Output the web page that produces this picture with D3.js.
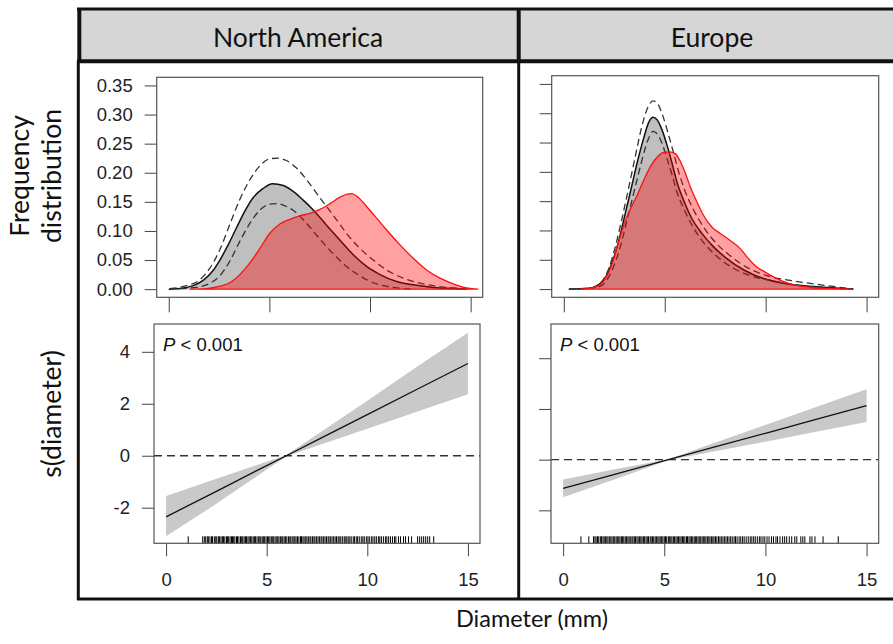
<!DOCTYPE html>
<html>
<head>
<meta charset="utf-8">
<script src="https://cdn.jsdelivr.net/npm/d3@7"></script>
<style>
  body { margin: 0; background: #fff; }
  svg { display: block; }
</style>
</head>
<body>
<svg id="chart" width="893" height="644"></svg>
<script>
// ---- Data ---------------------------------------------------------------
const regions = ["North America", "Europe"];

const densityTicks = [0, 0.05, 0.10, 0.15, 0.20, 0.25, 0.30, 0.35];
const diameterTicks = [0, 5, 10, 15];
const smoothTicks = [-2, 0, 2, 4];
const pText = ["P", " < 0.001"];

// Kernel density of diameters, [diameter (mm), density]
// North America: native (grey, with dashed bounds) and invaded (red)
const naNative = [[0,0],[0.55,0.001],[1.21,0.006],[1.71,0.015],[2.2,0.032],[2.54,0.05],[2.95,0.076],[3.36,0.105],[3.78,0.134],[4.19,0.157],[4.69,0.173],[5.15,0.181],[5.69,0.178],[6.18,0.168],[6.68,0.153],[7.18,0.136],[7.84,0.11],[8.51,0.084],[9.17,0.059],[9.83,0.039],[10.5,0.025],[11.32,0.013],[12.23,0.007],[13.14,0.003],[14.14,0.001],[14.8,0]];
const naNativeUpper = [[0.05,0.001],[0.88,0.006],[1.54,0.016],[2.04,0.036],[2.54,0.068],[3.03,0.111],[3.53,0.154],[4.03,0.188],[4.53,0.212],[5.02,0.224],[5.44,0.225],[5.85,0.221],[6.35,0.208],[6.85,0.188],[7.34,0.165],[7.84,0.142],[8.34,0.119],[8.83,0.096],[9.5,0.07],[10.16,0.05],[10.82,0.033],[11.65,0.019],[12.65,0.009],[13.81,0.003],[14.64,0.001]];
const naNativeLower = [[0.55,0.001],[1.38,0.003],[2.04,0.01],[2.54,0.023],[3.03,0.048],[3.53,0.082],[4.03,0.113],[4.53,0.136],[5.02,0.146],[5.35,0.147],[5.85,0.142],[6.35,0.131],[6.85,0.113],[7.34,0.093],[7.84,0.073],[8.34,0.055],[8.83,0.039],[9.5,0.023],[10.16,0.011],[10.82,0.005],[11.65,0.001],[12.15,0]];
const naInvaded = [[1.04,0],[1.87,0.001],[2.54,0.005],[3.03,0.011],[3.53,0.025],[4.03,0.045],[4.53,0.07],[5.02,0.096],[5.52,0.112],[6.02,0.12],[6.51,0.126],[7.01,0.13],[7.51,0.137],[8.01,0.147],[8.5,0.158],[8.83,0.163],[9.08,0.164],[9.41,0.158],[9.83,0.142],[10.33,0.122],[10.82,0.102],[11.49,0.076],[12.15,0.053],[12.81,0.033],[13.48,0.019],[14.14,0.009],[14.8,0.002],[15.38,0]];

// Europe
const euNative = [[0.25,0],[1.15,0.001],[1.65,0.006],[1.98,0.015],[2.31,0.038],[2.64,0.072],[2.97,0.118],[3.3,0.166],[3.63,0.215],[3.96,0.258],[4.2,0.284],[4.42,0.293],[4.62,0.289],[4.86,0.272],[5.11,0.246],[5.36,0.215],[5.6,0.183],[5.93,0.152],[6.35,0.12],[6.84,0.095],[7.42,0.072],[8.08,0.052],[8.9,0.033],[9.89,0.018],[11.04,0.009],[12.53,0.004],[14.34,0]];
const euNativeUpper = [[0.25,0],[1.48,0.003],[1.9,0.014],[2.23,0.035],[2.55,0.072],[2.88,0.12],[3.21,0.172],[3.54,0.226],[3.87,0.278],[4.15,0.309],[4.42,0.321],[4.65,0.316],[4.91,0.295],[5.19,0.263],[5.44,0.232],[5.69,0.2],[6.02,0.166],[6.43,0.135],[6.92,0.106],[7.5,0.08],[8.24,0.057],[9.07,0.037],[10.05,0.023],[11.37,0.014],[13.02,0.006],[14.34,0]];
const euNativeLower = [[0.66,0],[1.65,0.003],[2.06,0.012],[2.39,0.032],[2.72,0.063],[3.05,0.106],[3.38,0.152],[3.71,0.198],[4.04,0.241],[4.25,0.261],[4.42,0.269],[4.62,0.265],[4.86,0.249],[5.11,0.223],[5.36,0.195],[5.6,0.166],[5.93,0.138],[6.35,0.109],[6.84,0.083],[7.42,0.061],[8.24,0.039],[9.23,0.023],[10.38,0.014],[11.7,0.006],[13.02,0.002],[13.85,0]];
const euInvaded = [[0.82,0],[1.4,0.002],[1.81,0.008],[2.14,0.023],[2.39,0.043],[2.64,0.072],[2.97,0.109],[3.3,0.137],[3.63,0.16],[3.96,0.186],[4.29,0.209],[4.62,0.225],[4.94,0.233],[5.24,0.234],[5.52,0.231],[5.77,0.218],[6.02,0.198],[6.26,0.175],[6.59,0.149],[6.92,0.126],[7.33,0.106],[7.75,0.095],[8.24,0.083],[8.74,0.069],[9.07,0.055],[9.48,0.04],[9.97,0.029],[10.55,0.018],[11.21,0.009],[12.2,0.003],[13.19,0.001],[14.26,0]];

// Smooth term s(diameter) with 95% band
const naSmoothX     = [0, 2.5, 5, 6, 7.5, 10, 12.5, 15];
const naSmoothFit   = [-2.35, -1.37, -0.38, 0.01, 0.60, 1.58, 2.57, 3.55];
const naSmoothUpper = [-1.55, -0.89, -0.23, 0.04, 0.82, 2.12, 3.44, 4.73];
const naSmoothLower = [-3.10, -1.85, -0.53, -0.02, 0.38, 1.04, 1.70, 2.37];

const euSmoothX     = [0, 2.5, 5.2, 7.5, 10, 12.5, 15];
const euSmoothFit   = [-1.13, -0.59, 0.00, 0.50, 1.04, 1.59, 2.13];
const euSmoothUpper = [-0.78, -0.39, 0.02, 0.67, 1.37, 2.08, 2.78];
const euSmoothLower = [-1.48, -0.79, -0.02, 0.33, 0.71, 1.10, 1.48];

// Observed diameters (rug)
const naRug = [1.1, 1.82, 1.9, 1.97, 2.05, 2.1, 2.18, 2.26, 2.31, 2.4, 2.47, 2.52, 2.6, 2.66, 2.73, 2.8, 2.85, 2.92, 3.0, 3.05, 3.11, 3.18, 3.25, 3.3, 3.36, 3.42, 3.5, 3.55, 3.62, 3.7, 3.76, 3.81, 3.88, 3.95, 4.0, 4.07, 4.13, 4.2, 4.26, 4.33, 4.4, 4.45, 4.52, 4.6, 4.66, 4.71, 4.78, 4.85, 4.9, 4.97, 5.04, 5.1, 5.16, 5.23, 5.3, 5.35, 5.42, 5.5, 5.55, 5.61, 5.68, 5.75, 5.8, 5.87, 5.94, 6.0, 6.08, 6.15, 6.2, 6.27, 6.35, 6.4, 6.46, 6.53, 6.6, 6.68, 6.73, 6.8, 6.86, 6.94, 7.0, 7.07, 7.15, 7.2, 7.28, 7.35, 7.4, 7.48, 7.55, 7.62, 7.7, 7.75, 7.83, 7.9, 7.97, 8.05, 8.1, 8.18, 8.25, 8.33, 8.4, 8.47, 8.55, 8.6, 8.68, 8.76, 8.85, 8.9, 8.98, 9.05, 9.13, 9.2, 9.3, 9.36, 9.45, 9.52, 9.6, 9.7, 9.78, 9.85, 9.95, 10.03, 10.1, 10.2, 10.28, 10.37, 10.45, 10.55, 10.62, 10.7, 10.8, 10.9, 10.97, 11.06, 11.15, 11.25, 11.35, 11.42, 11.55, 11.65, 11.8, 11.9, 12.05, 12.2, 12.5, 12.6, 12.7, 12.8, 12.9, 13.0, 13.1, 13.3];
const euRug = [0.88, 1.27, 1.5, 1.57, 1.63, 1.7, 1.76, 1.84, 1.9, 1.97, 2.03, 2.1, 2.16, 2.22, 2.3, 2.36, 2.42, 2.5, 2.55, 2.62, 2.68, 2.75, 2.81, 2.88, 2.94, 3.0, 3.07, 3.13, 3.2, 3.26, 3.32, 3.4, 3.45, 3.52, 3.58, 3.65, 3.71, 3.78, 3.84, 3.9, 3.97, 4.03, 4.1, 4.16, 4.22, 4.3, 4.35, 4.42, 4.48, 4.55, 4.61, 4.68, 4.74, 4.8, 4.87, 4.93, 5.0, 5.06, 5.12, 5.2, 5.25, 5.32, 5.38, 5.45, 5.51, 5.58, 5.64, 5.7, 5.77, 5.83, 5.9, 5.96, 6.02, 6.1, 6.15, 6.22, 6.28, 6.35, 6.41, 6.48, 6.55, 6.6, 6.67, 6.73, 6.8, 6.87, 6.93, 7.0, 7.06, 7.13, 7.2, 7.26, 7.33, 7.4, 7.46, 7.53, 7.6, 7.68, 7.75, 7.82, 7.9, 7.97, 8.05, 8.12, 8.2, 8.28, 8.36, 8.45, 8.52, 8.6, 8.7, 8.78, 8.87, 8.95, 9.05, 9.15, 9.25, 9.33, 9.42, 9.5, 9.6, 9.7, 9.78, 9.88, 9.97, 10.08, 10.18, 10.3, 10.4, 10.52, 10.6, 10.72, 10.85, 10.95, 11.05, 11.18, 11.3, 11.45, 11.55, 11.75, 11.85, 11.95, 12.2, 12.3, 12.45, 12.85, 13.6];

// ---- Layout -------------------------------------------------------------
const svg = d3.select("#chart");
const TICK_FONT = "'Liberation Sans', Arial, sans-serif";
const TITLE_FONT = "Lato, 'Open Sans', sans-serif";
const xDomain = [-0.6, 15.6];

const panels = {
  densNA: { x0: 156.7, x1: 482.7, y0: 77.3, y1: 297.3, yDomain: [-0.014, 0.364] },
  densEU: { x0: 551.7, x1: 878.7, y0: 75.7, y1: 297.3, yDomain: [-0.014, 0.364] },
  smNA:   { x0: 154,   x1: 480,   y0: 324,  y1: 543.3, yDomain: [-3.37, 5.07] },
  smEU:   { x0: 551,   x1: 878.7, y0: 324,  y1: 543.3, yDomain: [-3.30, 5.35] }
};

// ---- Strip headers and outer frame -------------------------------------
const frame = svg.append("g");
frame.append("rect").attr("x", 79).attr("y", 9).attr("width", 830).attr("height", 52)
  .attr("fill", "#d6d6d6");
const frameLines = [
  [77, 9, 893, 9, 3],
  [77, 61.3, 893, 61.3, 4],
  [79.3, 8, 79.3, 61, 4],
  [78.3, 61, 78.3, 600, 3],
  [518.7, 8, 518.7, 61, 4],
  [518.7, 61, 518.7, 600, 3],
  [77, 599, 893, 599, 3]
];
frame.selectAll("line").data(frameLines).join("line")
  .attr("x1", d => d[0]).attr("y1", d => d[1]).attr("x2", d => d[2]).attr("y2", d => d[3])
  .attr("stroke", "#111").attr("stroke-width", d => d[4]);

const headerCenters = [298, 712];
frame.selectAll("text.strip").data(regions).join("text")
  .attr("class", "strip")
  .attr("x", (d, i) => headerCenters[i]).attr("y", 47)
  .attr("text-anchor", "middle")
  .attr("font-family", TITLE_FONT).attr("font-size", 26.5).attr("fill", "#111")
  .text(d => d);

// Axis titles
function vTitle(lines, xs, cy) {
  lines.forEach((t, i) => {
    svg.append("text")
      .attr("transform", `translate(${xs[i]},${cy}) rotate(-90)`)
      .attr("text-anchor", "middle")
      .attr("font-family", TITLE_FONT).attr("font-size", 26.5).attr("fill", "#111")
      .text(t);
  });
}
vTitle(["Frequency", "distribution"], [29, 61], 176);
vTitle(["s(diameter)"], [61], 414);
svg.append("text")
  .attr("x", 532).attr("y", 627).attr("text-anchor", "middle")
  .attr("font-family", TITLE_FONT).attr("font-size", 23.5).attr("fill", "#111")
  .text("Diameter (mm)");

// ---- Helpers -------------------------------------------------------------
function scalesFor(p) {
  return {
    x: d3.scaleLinear().domain(xDomain).range([p.x0, p.x1]),
    y: d3.scaleLinear().domain(p.yDomain).range([p.y1, p.y0])
  };
}

function styleAxis(g) {
  g.select(".domain").remove();
  g.selectAll(".tick line").attr("stroke", "#444").attr("stroke-width", 1);
  g.selectAll(".tick text").attr("font-family", TICK_FONT).attr("font-size", 18.5).attr("fill", "#222");
}

function drawBox(p) {
  svg.append("rect")
    .attr("x", p.x0).attr("y", p.y0).attr("width", p.x1 - p.x0).attr("height", p.y1 - p.y0)
    .attr("fill", "none").attr("stroke", "#555").attr("stroke-width", 1.2);
}

// ---- Density panels --------------------------------------------------------
function drawDensity(p, native, upper, lower, invaded, labelled) {
  const s = scalesFor(p);
  const g = svg.append("g");
  const area = d3.area().x(d => s.x(d[0])).y0(s.y(0)).y1(d => s.y(d[1])).curve(d3.curveMonotoneX);
  const line = d3.line().x(d => s.x(d[0])).y(d => s.y(d[1])).curve(d3.curveMonotoneX);

  g.append("path").attr("d", area(native)).attr("fill", "#bfbfbf");
  g.append("line")
    .attr("x1", s.x(native[0][0])).attr("x2", s.x(native[native.length - 1][0]))
    .attr("y1", s.y(0)).attr("y2", s.y(0)).attr("stroke", "#d0d0d0").attr("stroke-width", 1);
  g.append("path").attr("d", line(native)).attr("fill", "none").attr("stroke", "#111").attr("stroke-width", 1.5);
  [upper, lower].forEach(b => {
    g.append("path").attr("d", line(b)).attr("fill", "none")
      .attr("stroke", "#333").attr("stroke-width", 1.3).attr("stroke-dasharray", "7,4");
  });
  g.append("path").attr("d", area(invaded) + "Z")
    .attr("fill", "rgba(255,0,0,0.37)").attr("stroke", "#ff1010").attr("stroke-width", 1.3);

  drawBox(p);

  const ay = d3.axisLeft(s.y).tickValues(densityTicks).tickSize(12).tickPadding(12)
    .tickFormat(labelled ? d3.format(".2f") : () => "");
  svg.append("g").attr("transform", `translate(${p.x0},0)`).call(ay).call(styleAxis);
  const ax = d3.axisBottom(s.x).tickValues(diameterTicks).tickSize(15).tickFormat(() => "");
  svg.append("g").attr("transform", `translate(0,${p.y1})`).call(ax).call(styleAxis);
}

drawDensity(panels.densNA, naNative, naNativeUpper, naNativeLower, naInvaded, true);
drawDensity(panels.densEU, euNative, euNativeUpper, euNativeLower, euInvaded, false);

// ---- Smooth-term panels ----------------------------------------------------
function drawSmooth(p, xs, fit, lo, hi, rug, labelled) {
  const s = scalesFor(p);
  const g = svg.append("g");
  const band = d3.area().x((d, i) => s.x(xs[i])).y0((d, i) => s.y(lo[i])).y1((d, i) => s.y(hi[i]));
  g.append("path").attr("d", band(xs)).attr("fill", "#c9c9c9");

  g.append("line").attr("x1", p.x0).attr("x2", p.x1).attr("y1", s.y(0)).attr("y2", s.y(0))
    .attr("stroke", "#333").attr("stroke-width", 1.3).attr("stroke-dasharray", "8,5");

  const ln = d3.line().x((d, i) => s.x(xs[i])).y((d, i) => s.y(fit[i]));
  g.append("path").attr("d", ln(xs)).attr("fill", "none").attr("stroke", "#111").attr("stroke-width", 1.3);

  g.selectAll("line.rug").data(rug).join("line").attr("class", "rug")
    .attr("x1", d => s.x(d)).attr("x2", d => s.x(d))
    .attr("y1", p.y1).attr("y2", p.y1 - 7)
    .attr("stroke", "#000").attr("stroke-width", 1);

  drawBox(p);

  const t = g.append("text").attr("x", p.x0 + 9).attr("y", p.y0 + 27)
    .attr("font-family", TICK_FONT).attr("font-size", 18.5).attr("fill", "#111");
  t.append("tspan").attr("font-style", "italic").text(pText[0]);
  t.append("tspan").text(pText[1]);

  // plain hyphen for negative labels
  const ay = d3.axisLeft(s.y).tickValues(smoothTicks).tickSize(12).tickPadding(12)
    .tickFormat(labelled ? (d => String(d)) : () => "");
  svg.append("g").attr("transform", `translate(${p.x0},0)`).call(ay).call(styleAxis);
  const ax = d3.axisBottom(s.x).tickValues(diameterTicks).tickSize(13).tickPadding(17);
  svg.append("g").attr("transform", `translate(0,${p.y1})`).call(ax).call(styleAxis);
}

drawSmooth(panels.smNA, naSmoothX, naSmoothFit, naSmoothLower, naSmoothUpper, naRug, true);
drawSmooth(panels.smEU, euSmoothX, euSmoothFit, euSmoothLower, euSmoothUpper, euRug, false);
</script>
</body>
</html>
